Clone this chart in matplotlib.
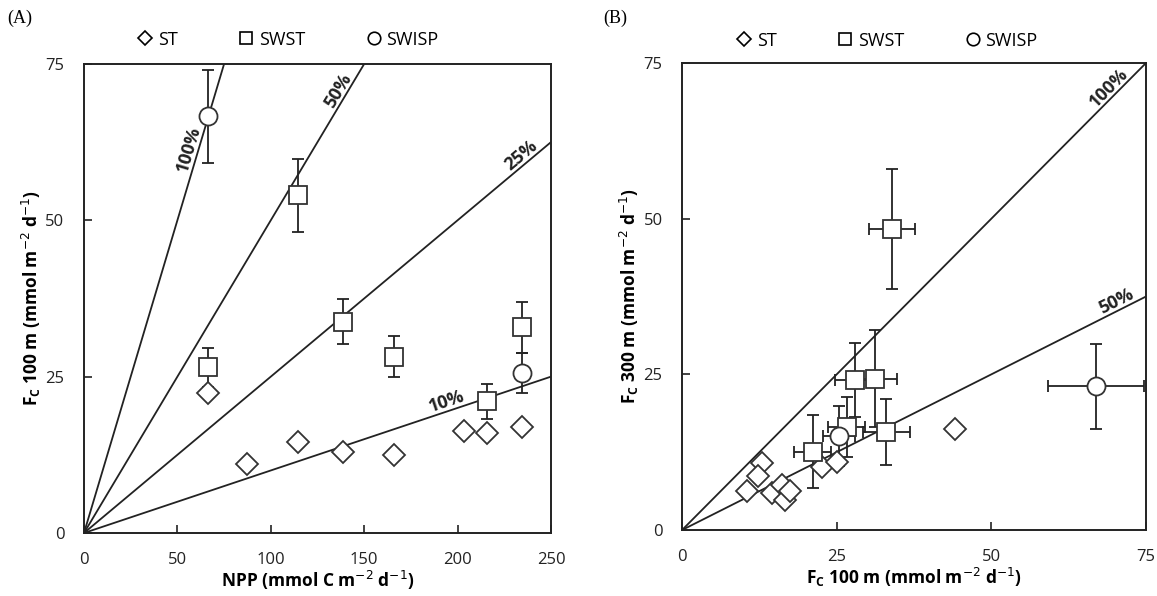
import numpy as np
import matplotlib
matplotlib.use('Agg')
import matplotlib.pyplot as plt
from matplotlib.lines import Line2D

# panel A: Fc at 100 m against NPP
st_npp = [66.5, 87, 114.7, 138.5, 166, 203.5, 215.5, 234.5]
st_fc100 = [22.4, 11.0, 14.6, 12.9, 12.5, 16.3, 16.0, 17.0]
swst_npp = [66.5, 114.7, 138.5, 166, 215.5, 234.5]
swst_fc100 = [26.5, 54.0, 33.8, 28.2, 21.1, 32.9]
swst_err = [3.1, 5.8, 3.6, 3.3, 2.8, 4.1]
swisp_npp = [66.5, 234.5]
swisp_fc100 = [66.6, 25.6]
swisp_err = [7.5, 3.2]
ratios_a = [1.0, 0.5, 0.25, 0.1]
ratio_labels_a = ['100%', '50%', '25%', '10%']
label_x_a = [61, 140, 237, 196]

# panel B: Fc at 300 m against Fc at 100 m
st_b_x = [12.9, 12.3, 10.5, 14.5, 16.1, 16.6, 17.4, 22.6, 25.0, 44.2]
st_b_y = [10.7, 8.6, 6.2, 5.9, 7.2, 4.8, 6.2, 10.2, 11.0, 16.2]
swst_b_x = [21.1, 26.6, 28.0, 31.2, 33.0, 33.9]
swst_b_y = [12.6, 16.6, 24.1, 24.3, 15.7, 48.3]
swst_b_xerr = [3.0, 3.0, 3.3, 3.6, 3.8, 3.7]
swst_b_yerr = [5.8, 4.8, 6.0, 7.8, 5.3, 9.6]
swisp_b_x = [25.4, 66.9]
swisp_b_y = [15.1, 23.1]
swisp_b_xerr = [2.6, 7.7]
swisp_b_yerr = [4.8, 6.8]
ratios_b = [1.0, 0.5]
ratio_labels_b = ['100%', '50%']
label_x_b = [70.0, 70.8]

tick_font = ['Liberation Sans Narrow', 'Open Sans', 'DejaVu Sans']
lab_font = ['Open Sans', 'DejaVu Sans']
ink = '#222222'

fig = plt.figure(figsize=(11.57, 5.96), dpi=100)
axA = fig.add_axes([0.0726, 0.1057, 0.4036, 0.787])
axB = fig.add_axes([0.5895, 0.1107, 0.4010, 0.7836])

mk = dict(markerfacecolor='white', markeredgecolor='#333333', markeredgewidth=1.3)
eb = dict(ecolor=ink, elinewidth=1.3, capsize=4.5, capthick=1.3, linestyle='none')


def ratio_lines(ax, ratios, labels, lx, xmax):
    xs = np.array([0, xmax])
    for r, lab, x in zip(ratios, labels, lx):
        ax.plot(xs, r * xs, color=ink, lw=1.3, zorder=1)
        ang = np.degrees(np.arctan(r))
        ax.text(x, r * x, lab, rotation=ang, transform_rotates_text=True,
                rotation_mode='anchor', ha='center', va='bottom',
                fontsize=13, fontweight='bold', family=lab_font, color=ink)


def style(ax, xmax, ymax, xticks):
    ax.set_xlim(0, xmax)
    ax.set_ylim(0, ymax)
    ax.set_xticks(xticks)
    ax.set_yticks([0, 25, 50, 75])
    ax.tick_params(direction='in', length=6, width=1.2, pad=14, labelsize=12, colors=ink)
    for lbl in ax.get_xticklabels() + ax.get_yticklabels():
        lbl.set_family(tick_font)
    for s in ax.spines.values():
        s.set_linewidth(1.4)
        s.set_color(ink)


def legend(ax, x, y):
    hs = [Line2D([], [], ls='none', marker='D', markersize=7.5, **mk),
          Line2D([], [], ls='none', marker='s', markersize=9, **mk),
          Line2D([], [], ls='none', marker='o', markersize=9, **mk)]
    for h in hs:
        h.set_markeredgecolor('black')
        h.set_markeredgewidth(1.2)
    leg = ax.legend(hs, ['ST', 'SWST', 'SWISP'], loc='center', bbox_to_anchor=(x, y),
                    ncol=3, frameon=False, handlelength=0.8, handletextpad=0.3,
                    columnspacing=3.4, prop={'family': lab_font, 'size': 13})
    return leg


# panel A
ratio_lines(axA, ratios_a, ratio_labels_a, label_x_a, 250)
axA.errorbar(swst_npp, swst_fc100, yerr=swst_err, zorder=2, **eb)
axA.errorbar(swisp_npp, swisp_fc100, yerr=swisp_err, zorder=2, **eb)
axA.plot(st_npp, st_fc100, ls='none', marker='D', markersize=11, zorder=3, **mk)
axA.plot(swst_npp, swst_fc100, ls='none', marker='s', markersize=12.5, zorder=3, **mk)
axA.plot(swisp_npp, swisp_fc100, ls='none', marker='o', markersize=13, zorder=3, **mk)
style(axA, 250, 75, [0, 50, 100, 150, 200, 250])
axA.set_xlabel('NPP (mmol C m$^{-2}$ d$^{-1}$)', fontsize=12.5, fontweight='bold',
               family=lab_font, labelpad=0)
axA.set_ylabel('F$_\\mathregular{C}$ 100 m (mmol m$^{-2}$ d$^{-1}$)', fontsize=12.5,
               fontweight='bold', family=lab_font, labelpad=2)
legend(axA, 0.437, 1.052)

# panel B
ratio_lines(axB, ratios_b, ratio_labels_b, label_x_b, 75)
axB.errorbar(swst_b_x, swst_b_y, xerr=swst_b_xerr, yerr=swst_b_yerr, zorder=2, **eb)
axB.errorbar(swisp_b_x, swisp_b_y, xerr=swisp_b_xerr, yerr=swisp_b_yerr, zorder=2, **eb)
axB.plot(st_b_x, st_b_y, ls='none', marker='D', markersize=11, zorder=3, **mk)
axB.plot(swst_b_x, swst_b_y, ls='none', marker='s', markersize=12.5, zorder=3, **mk)
axB.plot(swisp_b_x, swisp_b_y, ls='none', marker='o', markersize=13, zorder=3, **mk)
style(axB, 75, 75, [0, 25, 50, 75])
axB.set_xlabel('F$_\\mathregular{C}$ 100 m (mmol m$^{-2}$ d$^{-1}$)', fontsize=12.5,
               fontweight='bold', family=lab_font, labelpad=0)
axB.set_ylabel('F$_\\mathregular{C}$ 300 m (mmol m$^{-2}$ d$^{-1}$)', fontsize=12.5,
               fontweight='bold', family=lab_font, labelpad=2)
legend(axB, 0.442, 1.048)

fig.text(0.006, 0.962, '(A)', fontsize=13, family=['Liberation Serif', 'DejaVu Serif'])
fig.text(0.521, 0.962, '(B)', fontsize=13, family=['Liberation Serif', 'DejaVu Serif'])

fig.savefig('out.png', dpi=100)
